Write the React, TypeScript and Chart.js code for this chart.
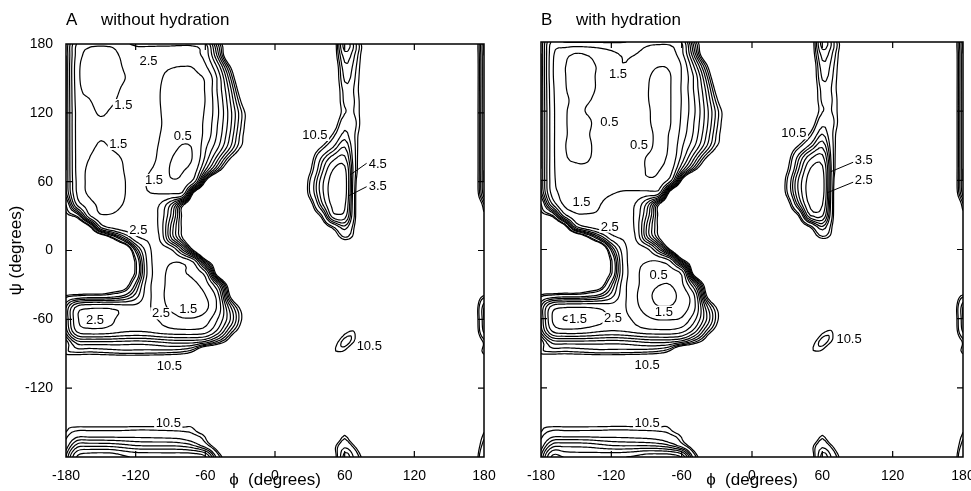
import React, { useEffect, useRef } from "react";
import { Chart, registerables } from "chart.js";

Chart.register(...registerables);

const FONT = '"Liberation Sans", Arial, Helvetica, sans-serif';
const H = 20; // "high" energy (above the outermost 10.5 contour)

// grid coordinates (degrees)
const PHI_GRID = [-180, -170, -160, -150, -140, -130, -120, -110, -100, -90, -80, -70, -60, -50, -40, -30, -20, -10, 0, 10, 20, 30, 40, 50, 60, 70, 80, 90, 100, 110, 120, 130, 140, 150, 160, 170];
const PSI_GRID = [180, 170, 160, 150, 140, 130, 120, 110, 100, 90, 80, 70, 60, 50, 40, 30, 20, 10, 0, -10, -20, -30, -40, -50, -60, -70, -80, -90, -100, -110, -120, -130, -140, -150, -160, -170];
const LEVELS = [0.5, 1.5, 2.5, 3.5, 4.5, 5.5, 6.5, 7.5, 8.5, 9.5, 10.5];
const X_TICKS = [-180, -120, -60, 0, 60, 120, 180];
const Y_TICKS = [-120, -60, 0, 60, 120, 180];
const INNER_TICKS = [-120, -60, 0, 60, 120];

// energy (kcal/mol), rows = psi (180 .. -170), cols = phi (-180 .. 170)
const ENERGY_A = [
  [6.5,2.3,1.8,1.7,1.8,2.3,2.65,2.7,2.7,2.7,2.65,2.7,3.3,8,14,H,H,H,H,H,H,H,H,13,6,8.5,14,H,H,H,H,H,H,H,H,15],
  [6.5,2.0,1.2,1.1,1.2,1.8,2.3,2.25,2.1,2.0,2.0,2.2,2.9,6.5,14,H,H,H,H,H,H,H,H,13,7,9,14,H,H,H,H,H,H,H,H,15],
  [6.5,1.8,1.0,0.9,1.0,1.6,1.9,1.9,1.7,1.55,1.48,1.55,2.3,4.5,9.5,16,H,H,H,H,H,H,H,14,7.8,9.5,14,H,H,H,H,H,H,H,H,15],
  [6.5,1.8,0.95,0.85,0.95,1.45,1.9,1.9,1.6,1.3,1.2,1.3,1.6,3.5,7.5,14,H,H,H,H,H,H,H,14,8.3,9.8,14,H,H,H,H,H,H,H,H,15],
  [6.5,1.9,1.2,0.9,1.1,1.75,2.0,1.9,1.55,1.2,1.1,1.2,1.55,3.5,6.5,12,H,H,H,H,H,H,H,14,9.0,10.0,14,H,H,H,H,H,H,H,H,15],
  [6.5,2.0,1.6,1.05,1.35,2.0,2.1,1.95,1.55,1.15,1.05,1.15,1.52,3.3,6.0,10.2,16,H,H,H,H,H,H,14,9.2,9.8,14,H,H,H,H,H,H,H,H,15],
  [6.5,2.1,1.9,1.35,1.75,2.1,2.1,2.0,1.6,1.1,1.0,1.1,1.6,3.2,5.7,9.0,13,H,H,H,H,H,H,14,9.6,9.8,14,H,H,H,H,H,H,H,H,15],
  [6.5,2.1,2.0,1.8,1.9,2.0,2.1,2.0,1.65,1.05,0.95,1.1,1.7,3.4,5.8,9.2,13,H,H,H,H,H,14,12.5,8.0,9.5,14,H,H,H,H,H,H,H,H,15],
  [6.5,2.1,1.9,1.6,1.8,2.0,2.1,2.0,1.55,1.0,0.7,0.9,1.8,3.6,6.2,9.7,13,H,H,H,H,H,14,10,7.0,10,14,H,H,H,H,H,H,H,H,15],
  [6.5,2.1,1.75,1.35,1.6,1.9,2.0,1.85,1.45,0.8,0.45,0.6,2.3,4.2,7.0,10.4,13,H,H,H,H,14,10.4,7.5,5.5,10,14,H,H,H,H,H,H,H,H,15],
  [6.5,2.1,1.5,1.05,1.2,1.6,1.9,1.8,1.35,0.55,0.3,0.6,2.8,6.0,10.0,14,H,H,H,H,14,12,7.2,4.8,4.2,10,14,H,H,H,H,H,H,H,H,15],
  [6.5,2.1,1.35,0.95,1.05,1.52,1.85,1.6,1.2,0.45,0.45,1.0,4.5,9.0,14,H,H,H,H,H,14,11,6.0,3.45,3.2,10,14,H,H,H,H,H,H,H,H,15],
  [6.5,2.2,1.3,0.95,1.0,1.45,1.8,1.45,1.0,0.6,0.7,2.0,10.8,H,H,H,H,H,H,H,16,9.5,5.0,3.0,2.95,10.6,14,H,H,H,H,H,H,H,H,15],
  [6.8,2.3,1.35,1.0,1.05,1.45,1.85,1.55,1.45,1.4,1.6,11.5,H,H,H,H,H,H,H,H,16,9.5,5.0,2.9,2.95,11,14,H,H,H,H,H,H,H,H,15],
  [9.5,3.2,1.9,1.3,1.25,1.55,1.9,2.0,2.45,4.5,9.5,16,H,H,H,H,H,H,H,H,14,12,6.0,3.2,3.3,11,14,H,H,H,H,H,H,H,H,15],
  [11.5,9.0,2.8,1.6,1.6,1.8,2.0,2.1,2.6,5.5,10.8,16,H,H,H,H,H,H,H,H,H,14,10,4.0,4.0,11,14,H,H,H,H,H,H,H,H,15],
  [H,H,12.5,3.5,2.3,1.9,1.9,2.0,2.6,6.5,10.8,16,H,H,H,H,H,H,H,H,H,H,14,10,7.0,11.5,14,H,H,H,H,H,H,H,H,15],
  [H,H,H,H,11.4,6.0,3.0,2.4,2.4,6.0,10,16,H,H,H,H,H,H,H,H,H,H,H,14,10.2,12,14,H,H,H,H,H,H,H,H,15],
  [H,H,H,H,H,H,7,3.0,2.0,2.2,5.0,10.6,H,H,H,H,H,H,H,H,H,H,H,H,H,H,H,H,H,H,H,H,H,H,H,15],
  [H,H,H,H,16,16,10,3.3,1.9,1.55,1.6,2.6,8.5,14,H,H,H,H,H,H,H,H,H,H,H,H,H,H,H,H,H,H,H,H,H,15],
  [H,H,H,H,16,14,10,3.4,1.9,1.35,1.4,1.8,3.0,12,H,H,H,H,H,H,H,H,H,H,H,H,H,H,H,H,H,H,H,H,H,15],
  [H,H,H,H,15,13,7,3.0,1.9,1.25,1.1,1.3,2.0,4.5,12,H,H,H,H,H,H,H,H,H,H,H,H,H,H,H,H,H,H,H,H,15],
  [10,9.0,8.5,8.5,8.0,7.0,5.0,2.9,1.9,1.15,0.95,1.0,1.45,2.8,9.5,16,H,H,H,H,H,H,H,H,H,H,H,H,H,H,H,H,H,H,H,15],
  [6.5,3.0,2.6,2.55,2.6,2.9,3.1,2.7,2.0,1.35,1.05,1.0,1.3,2.6,6.5,10.8,15,H,H,H,H,H,H,H,H,H,H,H,H,H,H,H,H,H,H,15],
  [6.5,2.6,2.1,2.1,2.4,2.9,3.1,2.8,2.45,2.0,1.6,1.6,2.0,3.4,6.0,10,14,H,H,H,H,H,H,H,H,H,H,H,H,H,H,H,H,H,H,15],
  [7.0,3.2,2.8,2.8,3.0,3.3,3.4,3.3,3.0,2.8,2.7,2.7,3.0,4.6,8.0,12,H,H,H,H,H,H,H,H,11.8,11.0,H,H,H,H,H,H,H,H,H,15],
  [10.2,7.0,6.8,6.8,6.8,6.9,7.0,6.9,6.6,6.3,6.2,6.3,7.0,9.0,12,H,H,H,H,H,H,H,H,12.5,9,11.5,H,H,H,H,H,H,H,H,H,15],
  [10.3,10.0,10.2,10.0,9.8,9.6,9.6,9.7,9.8,10.0,10.4,12,H,H,H,H,H,H,H,H,H,H,H,11.5,11.8,H,H,H,H,H,H,H,H,H,H,15],
  [H,H,H,H,H,H,H,H,H,H,H,H,H,H,H,H,H,H,H,H,H,H,H,H,H,H,H,H,H,H,H,H,H,H,H,15],
  [H,H,H,H,H,H,H,H,H,H,H,H,H,H,H,H,H,H,H,H,H,H,H,H,H,H,H,H,H,H,H,H,H,H,H,15],
  [H,H,H,H,H,H,H,H,H,H,H,H,H,H,H,H,H,H,H,H,H,H,H,H,H,H,H,H,H,H,H,H,H,H,H,15],
  [H,H,H,H,H,H,H,H,H,H,H,H,H,H,H,H,H,H,H,H,H,H,H,H,H,H,H,H,H,H,H,H,H,H,H,15],
  [H,H,H,H,H,H,H,H,H,H,H,H,H,H,H,H,H,H,H,H,H,H,H,H,H,H,H,H,H,H,H,H,H,H,H,15],
  [12,12,12,12,12,12,12,12,12,12,12,12,H,H,H,H,H,H,H,H,H,H,H,H,H,H,H,H,H,H,H,H,H,H,H,15],
  [10.3,8.5,8.5,8.5,8.5,8.5,8.4,8.4,8.5,8.6,8.8,9.5,11.5,H,H,H,H,H,H,H,H,H,H,H,11,H,H,H,H,H,H,H,H,H,H,15],
  [8.5,5.0,4.8,4.8,4.9,5.2,5.5,5.6,5.6,5.6,5.8,6.5,8.5,13,H,H,H,H,H,H,H,H,H,12,8.0,11.5,H,H,H,H,H,H,H,H,H,15],
];

// energy (with hydration)
const ENERGY_B = [
  [6.5,2.2,2.55,2.6,2.6,2.6,2.6,2.55,2.3,1.9,1.8,1.85,2.6,8,14,H,H,H,H,H,H,H,H,13,6,8.5,14,H,H,H,H,H,H,H,H,15],
  [6.5,1.7,0.8,0.48,0.6,0.9,1.3,1.6,1.55,1.2,1.0,1.1,2.2,6.5,14,H,H,H,H,H,H,H,H,13,7,9,14,H,H,H,H,H,H,H,H,15],
  [6.5,1.6,0.55,0.35,0.4,0.6,1.2,1.48,1.25,0.8,0.55,0.65,1.6,4.5,9.5,16,H,H,H,H,H,H,H,14,7.8,9.5,14,H,H,H,H,H,H,H,H,15],
  [6.5,1.6,0.55,0.3,0.32,0.65,1.1,1.2,0.95,0.6,0.35,0.45,1.55,3.5,7.5,14,H,H,H,H,H,H,H,14,8.3,9.8,14,H,H,H,H,H,H,H,H,15],
  [6.5,1.7,0.58,0.3,0.35,0.62,1.05,1.15,0.9,0.55,0.35,0.45,1.6,3.5,6.5,12,H,H,H,H,H,H,H,14,9.0,10.0,14,H,H,H,H,H,H,H,H,15],
  [6.5,1.75,0.65,0.4,0.45,0.7,1.0,1.1,0.9,0.55,0.35,0.45,1.55,3.3,6.0,10.2,16,H,H,H,H,H,H,14,9.2,9.8,14,H,H,H,H,H,H,H,H,15],
  [6.5,1.8,0.6,0.4,0.55,0.8,1.0,1.1,0.95,0.6,0.35,0.45,1.6,3.2,5.7,9.0,13,H,H,H,H,H,H,14,9.6,9.8,14,H,H,H,H,H,H,H,H,15],
  [6.5,1.8,0.6,0.35,0.4,0.8,1.0,1.1,1.0,0.62,0.35,0.45,1.7,3.4,5.8,9.2,13,H,H,H,H,H,14,12.5,8.0,9.5,14,H,H,H,H,H,H,H,H,15],
  [6.5,1.8,0.6,0.4,0.45,0.9,1.1,1.15,1.0,0.7,0.4,0.55,1.9,3.6,6.2,9.7,13,H,H,H,H,H,14,10,6.5,10,14,H,H,H,H,H,H,H,H,15],
  [6.5,1.8,0.55,0.35,0.4,0.8,1.1,1.15,0.95,0.75,0.35,0.6,2.3,4.2,7.0,10.4,13,H,H,H,H,14,10.3,7.0,4.8,10,14,H,H,H,H,H,H,H,H,15],
  [6.5,1.8,0.6,0.42,0.45,0.75,1.05,1.1,0.9,0.48,0.35,0.7,2.8,6.0,10.0,14,H,H,H,H,14,12,6.8,3.8,3.2,10,14,H,H,H,H,H,H,H,H,15],
  [6.5,1.8,0.75,0.6,0.6,0.8,1.0,1.05,0.85,0.47,0.45,1.0,4.5,9.0,14,H,H,H,H,H,14,11,5.5,2.45,2.3,10,14,H,H,H,H,H,H,H,H,15],
  [6.5,1.85,0.9,0.75,0.75,0.9,1.1,1.05,0.8,0.6,0.7,2.0,10.8,H,H,H,H,H,H,H,16,9.5,4.3,2.0,2.0,10.6,14,H,H,H,H,H,H,H,H,15],
  [6.8,2.0,1.2,1.0,1.0,1.2,1.4,1.55,1.6,1.65,1.7,11.5,H,H,H,H,H,H,H,H,16,9.5,4.3,1.9,2.0,11,14,H,H,H,H,H,H,H,H,15],
  [9.5,3.2,1.3,1.2,1.2,1.45,1.8,2.0,2.45,4.5,9.5,16,H,H,H,H,H,H,H,H,14,12,5.5,2.2,2.4,11,14,H,H,H,H,H,H,H,H,15],
  [11.5,9.0,2.8,1.6,1.55,1.6,1.9,2.1,2.6,5.5,10.8,16,H,H,H,H,H,H,H,H,H,14,10,3.3,3.3,11,14,H,H,H,H,H,H,H,H,15],
  [H,H,12.5,3.5,2.3,1.9,1.9,2.0,2.6,6.5,10.8,16,H,H,H,H,H,H,H,H,H,H,14,10,6.5,11.5,14,H,H,H,H,H,H,H,H,15],
  [H,H,H,H,11.4,6.0,3.0,2.4,2.4,6.0,10,16,H,H,H,H,H,H,H,H,H,H,H,14,10.2,12,14,H,H,H,H,H,H,H,H,15],
  [H,H,H,H,H,H,7,3.0,2.0,2.2,5.0,10.6,H,H,H,H,H,H,H,H,H,H,H,H,H,H,H,H,H,H,H,H,H,H,H,15],
  [H,H,H,H,16,16,10,3.3,1.8,1.55,1.52,2.4,8.5,14,H,H,H,H,H,H,H,H,H,H,H,H,H,H,H,H,H,H,H,H,H,15],
  [H,H,H,H,16,14,10,3.4,1.8,1.2,0.9,1.0,1.8,12,H,H,H,H,H,H,H,H,H,H,H,H,H,H,H,H,H,H,H,H,H,15],
  [H,H,H,H,15,13,7,3.0,1.8,1.1,0.58,0.52,1.3,4.5,12,H,H,H,H,H,H,H,H,H,H,H,H,H,H,H,H,H,H,H,H,15],
  [10,9.0,8.5,8.5,8.0,7.0,5.0,2.9,1.7,0.9,0.2,0.2,0.9,2.2,9.5,16,H,H,H,H,H,H,H,H,H,H,H,H,H,H,H,H,H,H,H,15],
  [6.5,3.0,2.6,2.55,2.55,2.7,3.0,2.7,1.8,1.1,0.55,0.55,1.0,2.1,6.5,10.8,15,H,H,H,H,H,H,H,H,H,H,H,H,H,H,H,H,H,H,15],
  [6.5,2.4,1.45,1.7,1.9,2.2,2.7,2.8,2.3,1.7,1.4,1.4,1.6,3.0,6.0,10,14,H,H,H,H,H,H,H,H,H,H,H,H,H,H,H,H,H,H,15],
  [7.0,3.2,2.7,2.7,2.9,3.2,3.4,3.3,3.0,2.7,2.6,2.6,3.0,4.6,8.0,12,H,H,H,H,H,H,H,H,11.8,11.0,H,H,H,H,H,H,H,H,H,15],
  [10.2,7.0,6.8,6.8,6.8,6.9,7.0,6.9,6.6,6.3,6.2,6.3,7.0,9.0,12,H,H,H,H,H,H,H,H,12.5,9,11.5,H,H,H,H,H,H,H,H,H,15],
  [10.3,10.0,10.2,10.0,9.8,9.6,9.6,9.7,9.8,10.0,10.4,12,H,H,H,H,H,H,H,H,H,H,H,11.5,11.8,H,H,H,H,H,H,H,H,H,H,15],
  [H,H,H,H,H,H,H,H,H,H,H,H,H,H,H,H,H,H,H,H,H,H,H,H,H,H,H,H,H,H,H,H,H,H,H,15],
  [H,H,H,H,H,H,H,H,H,H,H,H,H,H,H,H,H,H,H,H,H,H,H,H,H,H,H,H,H,H,H,H,H,H,H,15],
  [H,H,H,H,H,H,H,H,H,H,H,H,H,H,H,H,H,H,H,H,H,H,H,H,H,H,H,H,H,H,H,H,H,H,H,15],
  [H,H,H,H,H,H,H,H,H,H,H,H,H,H,H,H,H,H,H,H,H,H,H,H,H,H,H,H,H,H,H,H,H,H,H,15],
  [H,H,H,H,H,H,H,H,H,H,H,H,H,H,H,H,H,H,H,H,H,H,H,H,H,H,H,H,H,H,H,H,H,H,H,15],
  [12,12,12,12,12,12,12,12,12,12,12,12,H,H,H,H,H,H,H,H,H,H,H,H,H,H,H,H,H,H,H,H,H,H,H,15],
  [10.3,8.5,8.5,8.5,8.5,8.5,8.4,8.4,8.5,8.6,8.8,9.5,11.5,H,H,H,H,H,H,H,H,H,H,H,11,H,H,H,H,H,H,H,H,H,H,15],
  [8.5,5.0,4.8,4.8,4.9,5.2,5.5,5.6,5.6,5.6,5.8,6.5,8.5,13,H,H,H,H,H,H,H,H,H,12,8.0,11.5,H,H,H,H,H,H,H,H,H,15],
];

const LABELS_A = [
  { text: "2.5", phi: -109, psi: 165 },
  { text: "1.5", phi: -130.6, psi: 126.8 },
  { text: "1.5", phi: -135, psi: 92.8 },
  { text: "0.5", phi: -79.5, psi: 99.8 },
  { text: "1.5", phi: -104.2, psi: 61.4 },
  { text: "2.5", phi: -117.7, psi: 17.9 },
  { text: "10.5", phi: 34.4, psi: 100.7 },
  { text: "4.5", phi: 88.5, psi: 75.4 },
  { text: "3.5", phi: 88.5, psi: 56.2 },
  { text: "2.5", phi: -155, psi: -60.6 },
  { text: "2.5", phi: -98.2, psi: -54.8 },
  { text: "1.5", phi: -74.7, psi: -51 },
  { text: "10.5", phi: -91, psi: -100.7 },
  { text: "10.5", phi: 81.2, psi: -83 },
  { text: "10.5", phi: -91.9, psi: -150.6 },
];
const LEADERS_A = [
  { phi1: 78.9, psi1: 76, phi2: 64.6, psi2: 65.8 },
  { phi1: 78.9, psi1: 55.6, phi2: 63.1, psi2: 47.5 },
];

const LABELS_B = [
  { text: "1.5", phi: -114.3, psi: 152.2 },
  { text: "0.5", phi: -121.7, psi: 110.9 },
  { text: "0.5", phi: -96.4, psi: 90.7 },
  { text: "10.5", phi: 35.7, psi: 100.8 },
  { text: "3.5", phi: 95.3, psi: 77.7 },
  { text: "2.5", phi: 95.3, psi: 60.3 },
  { text: "1.5", phi: -145.5, psi: 41.5 },
  { text: "2.5", phi: -121.4, psi: 19.8 },
  { text: "0.5", phi: -79.7, psi: -22 },
  { text: "1.5", phi: -148.4, psi: -60.5 },
  { text: "2.5", phi: -118.6, psi: -59.6 },
  { text: "1.5", phi: -75.2, psi: -53.9 },
  { text: "10.5", phi: 82.8, psi: -77.6 },
  { text: "10.5", phi: -89.4, psi: -100 },
  { text: "10.5", phi: -89.4, psi: -150.7 },
];
const LEADERS_B = [
  { phi1: 86.8, psi1: 75.9, phi2: 67.2, psi2: 67.5 },
  { phi1: 86.8, psi1: 58.6, phi2: 64.4, psi2: 49.3 },
];

type Pt = { x: number; y: number };

// contours are traced on log(E + 1), so steep walls crowd their high levels together
const warp = (e: number) => Math.log(e + 1);

function buildContours(grid: number[][]): Pt[][] {
  const n = grid.length;
  const F = 4;
  const N = n * F;
  const step = (PHI_GRID[1] - PHI_GRID[0]) / F;
  const g = (i: number, j: number) => warp(grid[((i % n) + n) % n][((j % n) + n) % n]);
  const cr = (p0: number, p1: number, p2: number, p3: number, t: number) =>
    0.5 * (2 * p1 + (-p0 + p2) * t + (2 * p0 - 5 * p1 + 4 * p2 - p3) * t * t + (-p0 + 3 * p1 - 3 * p2 + p3) * t * t * t);
  const S: number[][] = [];
  for (let r = 0; r <= N; r++) {
    const u = r / F;
    const i0 = Math.floor(u);
    const t = u - i0;
    const row: number[] = [];
    for (let c = 0; c <= N; c++) {
      const v = c / F;
      const j0 = Math.floor(v);
      const s = v - j0;
      const rr = [-1, 0, 1, 2].map((d) => cr(g(i0 + d, j0 - 1), g(i0 + d, j0), g(i0 + d, j0 + 1), g(i0 + d, j0 + 2), s));
      let val = cr(rr[0], rr[1], rr[2], rr[3], t);
      const a = g(i0, j0), b = g(i0, j0 + 1), cc = g(i0 + 1, j0), dd = g(i0 + 1, j0 + 1);
      val = Math.min(Math.max(a, b, cc, dd), Math.max(Math.min(a, b, cc, dd), val));
      row.push(val);
    }
    S.push(row);
  }
  const phiAt = (c: number) => PHI_GRID[0] + c * step;
  const psiAt = (r: number) => PSI_GRID[0] - r * step;

  return LEVELS.map((level) => {
    const L = warp(level);
    const pts = new Map<string, Pt>();
    const segs: [string, string][] = [];
    for (let r = 0; r < N; r++) {
      for (let c = 0; c < N; c++) {
        const tl = S[r][c], tr = S[r][c + 1], bl = S[r + 1][c], br = S[r + 1][c + 1];
        let T = "", R = "", B = "", Lf = "";
        if ((tl >= L) !== (tr >= L)) {
          T = `h${r}_${c}`;
          if (!pts.has(T)) pts.set(T, { x: phiAt(c) + ((L - tl) / (tr - tl)) * step, y: psiAt(r) });
        }
        if ((tr >= L) !== (br >= L)) {
          R = `v${r}_${c + 1}`;
          if (!pts.has(R)) pts.set(R, { x: phiAt(c + 1), y: psiAt(r) - ((L - tr) / (br - tr)) * step });
        }
        if ((bl >= L) !== (br >= L)) {
          B = `h${r + 1}_${c}`;
          if (!pts.has(B)) pts.set(B, { x: phiAt(c) + ((L - bl) / (br - bl)) * step, y: psiAt(r + 1) });
        }
        if ((tl >= L) !== (bl >= L)) {
          Lf = `v${r}_${c}`;
          if (!pts.has(Lf)) pts.set(Lf, { x: phiAt(c), y: psiAt(r) - ((L - tl) / (bl - tl)) * step });
        }
        const present = [T, R, B, Lf].filter((k) => k !== "");
        if (present.length === 2) segs.push([present[0], present[1]]);
        else if (present.length === 4) {
          const center = (tl + tr + bl + br) / 4;
          if ((center >= L) === (tl >= L)) {
            segs.push([T, R]);
            segs.push([B, Lf]);
          } else {
            segs.push([T, Lf]);
            segs.push([R, B]);
          }
        }
      }
    }
    const adj = new Map<string, number[]>();
    segs.forEach((sg, i) => {
      for (const k of sg) {
        if (!adj.has(k)) adj.set(k, []);
        adj.get(k)!.push(i);
      }
    });
    const used = new Array(segs.length).fill(false);
    const out: Pt[] = [];
    for (let i = 0; i < segs.length; i++) {
      if (used[i]) continue;
      used[i] = true;
      const chain = [segs[i][0], segs[i][1]];
      const extend = (atEnd: boolean) => {
        for (;;) {
          const last = atEnd ? chain[chain.length - 1] : chain[0];
          const next = (adj.get(last) || []).find((j) => !used[j]);
          if (next === undefined) break;
          used[next] = true;
          const [a, b] = segs[next];
          const other = a === last ? b : a;
          if (atEnd) chain.push(other);
          else chain.unshift(other);
        }
      };
      extend(true);
      extend(false);
      for (const k of chain) out.push(pts.get(k)!);
      out.push({ x: NaN, y: NaN });
    }
    return out;
  });
}

function decorPlugin(labels: any[], leaders: any[]) {
  return {
    id: "decor",
    afterDatasetsDraw(chart: any) {
      const { ctx, chartArea: a } = chart;
      const xs = chart.scales.x;
      const ys = chart.scales.y;
      ctx.save();
      ctx.strokeStyle = "#000";
      ctx.lineWidth = 1;
      for (const l of leaders) {
        ctx.beginPath();
        ctx.moveTo(xs.getPixelForValue(l.phi1), ys.getPixelForValue(l.psi1));
        ctx.lineTo(xs.getPixelForValue(l.phi2), ys.getPixelForValue(l.psi2));
        ctx.stroke();
      }
      ctx.font = `13px ${FONT}`;
      ctx.textAlign = "center";
      ctx.textBaseline = "middle";
      for (const lb of labels) {
        const px = xs.getPixelForValue(lb.phi);
        const py = ys.getPixelForValue(lb.psi);
        const w = ctx.measureText(lb.text).width;
        ctx.fillStyle = "#fff";
        ctx.fillRect(px - w / 2 - 1.5, py - 6, w + 3, 12);
        ctx.fillStyle = "#000";
        ctx.fillText(lb.text, px, py + 0.5);
      }
      ctx.lineWidth = 1.5;
      ctx.strokeRect(a.left, a.top, a.right - a.left, a.bottom - a.top);
      ctx.lineWidth = 1.2;
      const T = 6;
      ctx.beginPath();
      for (const v of INNER_TICKS) {
        const px = xs.getPixelForValue(v);
        const py = ys.getPixelForValue(v);
        ctx.moveTo(px, a.bottom);
        ctx.lineTo(px, a.bottom - T);
        ctx.moveTo(px, a.top);
        ctx.lineTo(px, a.top + T);
        ctx.moveTo(a.left, py);
        ctx.lineTo(a.left + T, py);
        ctx.moveTo(a.right, py);
        ctx.lineTo(a.right - T, py);
      }
      ctx.stroke();
      ctx.restore();
    },
  };
}

function makeConfig(grid: number[][], labels: any[], leaders: any[], title: string, isA: boolean): any {
  const contours = buildContours(grid);
  return {
    type: "scatter",
    data: {
      datasets: contours.map((d, i) => ({
        label: `E = ${LEVELS[i]}`,
        data: d,
        showLine: true,
        borderColor: "#000",
        borderWidth: 1.2,
        pointRadius: 0,
        pointHoverRadius: 0,
        tension: 0.25,
        spanGaps: false,
        fill: false,
      })),
    },
    options: {
      responsive: false,
      animation: false,
      events: [],
      parsing: false,
      layout: { padding: { left: 0, right: isA ? 26 : 8, top: 0, bottom: 0 } },
      plugins: {
        legend: { display: false },
        tooltip: { enabled: false },
        title: {
          display: true,
          text: title,
          align: "start",
          fullSize: false,
          color: "#000",
          font: { family: FONT, size: 17, weight: "normal" },
          padding: { top: 9.8, bottom: isA ? 13.8 : 11.8 },
        },
      },
      scales: {
        x: {
          type: "linear",
          min: -180,
          max: 180,
          grid: { display: false },
          border: { display: false },
          afterBuildTicks: (s: any) => {
            s.ticks = X_TICKS.map((v) => ({ value: v }));
          },
          ticks: { color: "#000", font: { family: FONT, size: 14 }, padding: 3, maxRotation: 0, autoSkip: false, callback: (v: any) => String(v) },
          title: { display: true, text: "ϕ  (degrees)", color: "#000", font: { family: FONT, size: 17 }, padding: { top: 0, bottom: 0 } },
          afterFit: (s: any) => {
            s.height = 34;
            s.paddingLeft = 0;
            s.paddingRight = 0;
          },
        },
        y: {
          type: "linear",
          min: -180,
          max: 180,
          grid: { display: false },
          border: { display: false },
          afterBuildTicks: (s: any) => {
            s.ticks = Y_TICKS.map((v) => ({ value: v }));
          },
          ticks: { display: isA, color: "#000", font: { family: FONT, size: 14 }, padding: 5, callback: (v: any) => String(v) },
          title: { display: isA, text: "ψ (degrees)", color: "#000", font: { family: FONT, size: 17 }, padding: { top: 6, bottom: 0 } },
          afterFit: (s: any) => {
            s.width = isA ? 66 : 51;
            s.paddingTop = 0;
            s.paddingBottom = 0;
          },
        },
      },
    },
    plugins: [decorPlugin(labels, leaders)],
  };
}

export default function App() {
  const refA = useRef<HTMLCanvasElement>(null);
  const refB = useRef<HTMLCanvasElement>(null);
  useEffect(() => {
    const a = new Chart(refA.current as HTMLCanvasElement, makeConfig(ENERGY_A, LABELS_A, LEADERS_A, "A     without hydration", true));
    const b = new Chart(refB.current as HTMLCanvasElement, makeConfig(ENERGY_B, LABELS_B, LEADERS_B, "B     with hydration", false));
    return () => {
      a.destroy();
      b.destroy();
    };
  }, []);
  return (
    <div style={{ position: "absolute", left: 0, top: 0, width: 971, height: 491, background: "#fff", overflow: "hidden" }}>
      <canvas ref={refA} width={510} height={491} style={{ position: "absolute", left: 0, top: 0 }} />
      <canvas ref={refB} width={481} height={491} style={{ position: "absolute", left: 490, top: 0 }} />
    </div>
  );
}
